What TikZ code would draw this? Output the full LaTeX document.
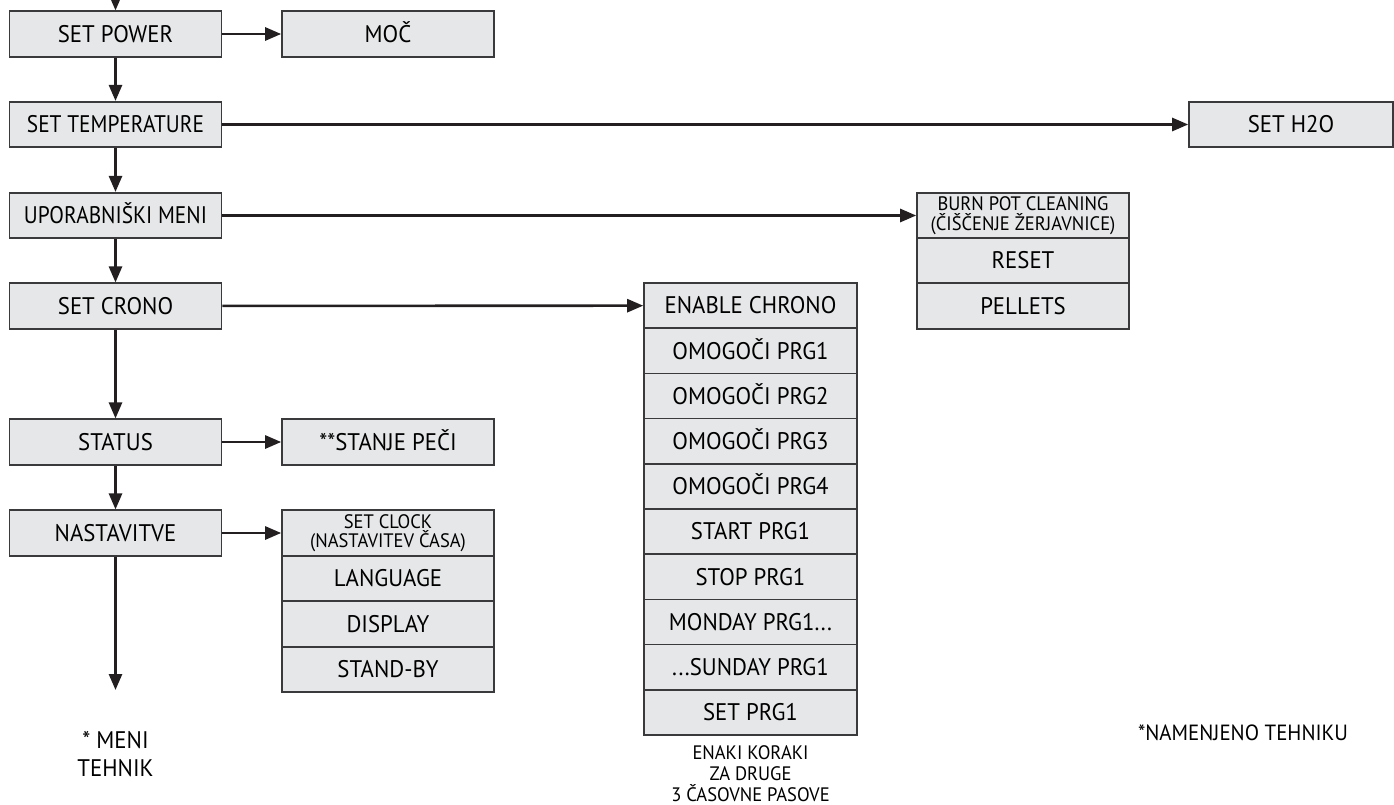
\documentclass[tikz,border=0pt]{standalone}
\usepackage{fontspec}
\setmainfont{PT Sans}[FakeStretch=0.95]
\newfontfamily\tightfont{PT Sans}[FakeStretch=0.89]
\usepackage{tikz}
\usetikzlibrary{arrows.meta}
\definecolor{boxfill}{HTML}{E6E7E8}
\definecolor{boxline}{HTML}{3A3A3C}
\definecolor{arrowline}{HTML}{231F20}
\tikzstyle{menu}=[draw=boxline,fill=boxfill,line width=1.6pt,minimum width=212pt,minimum height=45.5pt,inner sep=0pt,font=\fontsize{24}{27}\selectfont,text height=16.5pt,text depth=0pt]
\tikzstyle{tight}=[font=\tightfont\fontsize{24}{27}\selectfont]
\tikzstyle{row}=[menu,minimum height=45.2pt]
\tikzstyle{tworow}=[draw=boxline,fill=boxfill,line width=1.6pt,minimum width=212pt,minimum height=45.5pt,inner sep=0pt,align=center,font=\fontsize{19.5}{19.5}\selectfont]
\tikzstyle{go}=[line width=2.6pt,draw=arrowline,-{Triangle[length=16pt,width=13pt]}]
\tikzstyle{note}=[align=center,inner sep=0pt]

\begin{document}
\begin{tikzpicture}[x=1pt,y=-1pt]
		\useasboundingbox (0,0) rectangle (1394,805);

		% main column
		\coordinate (in) at (115.5,0);
		\node[menu] (power) at (115.5,34) {SET POWER};
		\node[menu,tight] (temp) at (115.5,124.5) {SET TEMPERATURE};
		\node[menu,tight] (user) at (115.5,215.5) {UPORABNIŠKI MENI};
		\node[menu] (crono) at (115.5,306) {SET CRONO};
		\node[menu] (status) at (115.5,442) {STATUS};
		\node[menu] (settings) at (115.5,533) {NASTAVITVE};
		\coordinate (tech) at (115.5,690);
		\node[note,font=\fontsize{24}{28}\selectfont] (technote) at (115.5,754) {* MENI\\TEHNIK};

		% side boxes
		\node[menu] (moc) at (388,34) {MOČ};
		\node[menu,minimum width=204pt] (h2o) at (1291,124.5) {SET H2O};
		\node[menu] (stanje) at (388,442) {**STANJE PEČI};

		% user menu
		\node[tworow] (burn) at (1023,215.5) {BURN POT CLEANING\\(ČIŠČENJE ŽERJAVNICE)};
		\node[menu] (reset) at (1023,260.5) {RESET};
		\node[menu] (pellets) at (1023,306) {PELLETS};

		% settings menu
		\node[tworow] (clock) at (388,533) {SET CLOCK\\(NASTAVITEV ČASA)};
		\node[menu] (lang) at (388,578.5) {LANGUAGE};
		\node[menu] (display) at (388,624) {DISPLAY};
		\node[menu] (standby) at (388,669.5) {STAND-BY};

		% chrono menu
		\node[row,minimum width=213pt] (chrono) at (750.5,305.6) {ENABLE CHRONO};
		\node[row,minimum width=213pt] (prg1) at (750.5,350.8) {OMOGOČI PRG1};
		\node[row,minimum width=213pt] (prg2) at (750.5,396) {OMOGOČI PRG2};
		\node[row,minimum width=213pt] (prg3) at (750.5,441.2) {OMOGOČI PRG3};
		\node[row,minimum width=213pt] (prg4) at (750.5,486.4) {OMOGOČI PRG4};
		\node[row,minimum width=213pt] (start) at (750.5,531.6) {START PRG1};
		\node[row,minimum width=213pt] (stop) at (750.5,576.8) {STOP PRG1};
		\node[row,minimum width=213pt] (monday) at (750.5,622) {MONDAY PRG1...};
		\node[row,minimum width=213pt] (sunday) at (750.5,667.2) {...SUNDAY PRG1};
		\node[row,minimum width=213pt] (setprg) at (750.5,712.4) {SET PRG1};
		\node[note,font=\fontsize{19.5}{21}\selectfont] (same) at (750.5,774) {ENAKI KORAKI\\ZA DRUGE\\3 ČASOVNE PASOVE};

		% footnote
		\node[note,font=\fontsize{22}{25}\selectfont] (tehniku) at (1243,733) {*NAMENJENO TEHNIKU};

		% arrows down
		\draw[go] (in) -- (power.north);
		\draw[go] (power) -- (temp);
		\draw[go] (temp) -- (user);
		\draw[go] (user) -- (crono);
		\draw[go] (crono) -- (status);
		\draw[go] (status) -- (settings);
		\draw[go] (settings) -- (tech);

		% arrows right
		\draw[go] (power) -- (moc);
		\draw[go] (temp) -- (h2o);
		\draw[go] (user) -- (burn);
		\draw[go] (crono) -- (chrono);
		\draw[go] (status) -- (stanje);
		\draw[go] (settings) -- (clock);
	\end{tikzpicture}
\end{document}
